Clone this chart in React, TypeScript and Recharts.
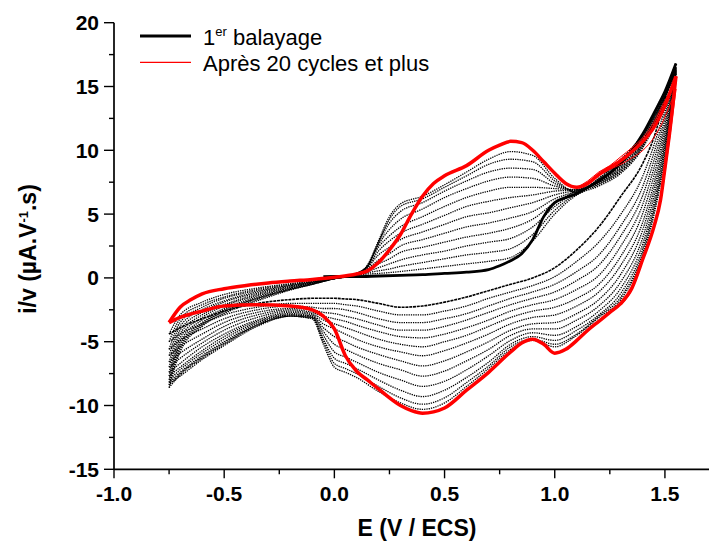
import React from "react";
import { Line, LineChart, XAxis, YAxis } from "recharts";

// Cyclic voltammogram: first sweep (thick black), intermediate cycles
// (dotted black) and the stabilised cycles after 20 sweeps (red).
// Potentials in V vs ECS, currents as i/v in µA.V-1.s.

const X_TICKS = [-1, -0.75, -0.5, -0.25, 0, 0.25, 0.5, 0.75, 1, 1.25, 1.5];
const Y_TICKS = [-15, -12.5, -10, -7.5, -5, -2.5, 0, 2.5, 5, 7.5, 10, 12.5, 15, 17.5, 20];

// potential grids shared by the dotted intermediate cycles
const UP_E = [-0.75, -0.7, -0.6, -0.5, -0.35, -0.2, -0.1, 0.0, 0.1, 0.15, 0.2, 0.25, 0.3, 0.4, 0.5, 0.6, 0.7, 0.8, 0.9, 1.0, 1.1, 1.2, 1.3, 1.4, 1.5, 1.55];
const DOWN_E = [1.55, 1.5, 1.45, 1.4, 1.3, 1.2, 1.1, 1.0, 0.9, 0.8, 0.7, 0.6, 0.5, 0.4, 0.3, 0.2, 0.1, 0.05, 0.0, -0.05, -0.1, -0.2, -0.35, -0.5, -0.6, -0.7, -0.75];

// 1er balayage
const FIRST_UP_E = [-0.05, 0.0, 0.1, 0.2, 0.3, 0.4, 0.5, 0.6, 0.7, 0.75, 0.8, 0.85, 0.9, 0.95, 1.0, 1.05, 1.1, 1.15, 1.2, 1.25, 1.3, 1.35, 1.4, 1.45, 1.5, 1.55];
const FIRST_UP = [0.1, 0.12, 0.1, 0.15, 0.2, 0.25, 0.35, 0.45, 0.65, 0.95, 1.35, 1.9, 3.0, 4.8, 5.9, 6.3, 6.6, 7.1, 7.6, 8.2, 9.0, 10.0, 11.3, 12.9, 14.6, 16.8];
const FIRST_DOWN = [16.8, 14.0, 11.0, 9.0, 6.4, 4.0, 2.2, 0.8, 0.0, -0.5, -1.0, -1.5, -1.9, -2.2, -2.3, -2.0, -1.7, -1.65, -1.6, -1.6, -1.6, -1.7, -2.0, -2.6, -3.2, -3.9, -4.4];

// intermediate cycles, anodic (UP_E) and cathodic (DOWN_E) branches
const C01_UP = [-4.4, -2.9, -1.9, -1.3, -0.8, -0.45, -0.25, -0.05, 0.2, 0.3, 0.35, 0.42, 0.5, 0.7, 0.9, 1.1, 1.3, 1.6, 2.9, 5.0, 6.5, 7.2, 8.2, 10.2, 14.0, 16.5];
const C01_DOWN = [16.5, 13.3, 10.4, 8.0, 5.0, 2.8, 1.3, 0.1, -0.6, -1.1, -1.6, -2.2, -2.6, -2.9, -2.9, -2.6, -2.2, -2.1, -2.0, -2.0, -2.0, -2.0, -2.3, -2.9, -3.6, -4.4, -5.0];
const C02_UP = [-5.0, -3.2, -2.1, -1.5, -0.9, -0.5, -0.3, -0.05, 0.2, 0.4, 0.55, 0.7, 0.9, 1.2, 1.5, 1.8, 2.0, 2.3, 3.4, 5.3, 6.6, 7.3, 8.3, 10.3, 14.1, 16.5];
const C02_DOWN = [16.5, 12.9, 9.8, 7.2, 4.1, 1.8, 0.5, -0.5, -1.1, -1.6, -2.2, -2.8, -3.2, -3.5, -3.5, -3.2, -2.7, -2.5, -2.4, -2.4, -2.3, -2.2, -2.5, -3.2, -4.0, -4.9, -5.6];
const C03_UP = [-5.6, -3.5, -2.3, -1.6, -1.0, -0.55, -0.3, -0.05, 0.2, 0.5, 0.8, 1.1, 1.4, 1.8, 2.1, 2.5, 2.8, 3.1, 4.0, 5.6, 6.7, 7.4, 8.4, 10.4, 14.1, 16.4];
const C03_DOWN = [16.4, 12.5, 9.2, 6.5, 3.3, 1.0, -0.2, -1.1, -1.6, -2.1, -2.7, -3.3, -3.8, -4.1, -4.1, -3.7, -3.2, -3.0, -2.8, -2.7, -2.5, -2.4, -2.7, -3.5, -4.4, -5.4, -6.1];
const C04_UP = [-6.1, -3.8, -2.5, -1.8, -1.1, -0.6, -0.35, -0.05, 0.25, 0.6, 1.1, 1.5, 2.0, 2.4, 2.8, 3.2, 3.5, 3.9, 4.6, 5.9, 6.8, 7.4, 8.5, 10.5, 14.2, 16.4];
const C04_DOWN = [16.4, 12.1, 8.6, 5.8, 2.5, 0.2, -0.9, -1.7, -2.1, -2.6, -3.3, -3.9, -4.4, -4.7, -4.6, -4.2, -3.7, -3.4, -3.2, -3.0, -2.7, -2.5, -2.9, -3.8, -4.8, -5.9, -6.6];
const C05_UP = [-6.6, -4.1, -2.7, -1.9, -1.2, -0.65, -0.35, -0.05, 0.25, 0.7, 1.4, 1.9, 2.5, 3.0, 3.5, 4.0, 4.3, 4.7, 5.2, 6.2, 6.8, 7.5, 8.6, 10.6, 14.2, 16.3];
const C05_DOWN = [16.3, 11.7, 8.0, 5.1, 1.7, -0.5, -1.6, -2.3, -2.6, -3.1, -3.8, -4.5, -5.0, -5.4, -5.2, -4.8, -4.2, -3.9, -3.6, -3.3, -2.8, -2.6, -3.1, -4.1, -5.1, -6.3, -7.0];
const C06_UP = [-7.0, -4.4, -2.9, -2.1, -1.3, -0.7, -0.4, -0.05, 0.3, 0.8, 1.8, 2.4, 3.0, 3.6, 4.2, 4.8, 5.1, 5.5, 5.9, 6.5, 6.9, 7.5, 8.7, 10.7, 14.3, 16.3];
const C06_DOWN = [16.3, 11.3, 7.4, 4.4, 1.0, -1.1, -2.2, -2.9, -3.1, -3.6, -4.4, -5.1, -5.7, -6.1, -5.8, -5.4, -4.8, -4.4, -4.0, -3.6, -2.9, -2.7, -3.3, -4.4, -5.4, -6.7, -7.4];
const C07_UP = [-7.4, -4.7, -3.1, -2.2, -1.4, -0.75, -0.4, -0.05, 0.3, 0.85, 2.1, 2.9, 3.5, 4.2, 4.9, 5.6, 6.0, 6.3, 6.5, 6.8, 6.9, 7.6, 8.8, 10.8, 14.3, 16.2];
const C07_DOWN = [16.2, 10.9, 6.9, 3.8, 0.3, -1.7, -2.8, -3.5, -3.6, -4.1, -5.0, -5.8, -6.5, -6.9, -6.5, -6.0, -5.4, -5.0, -4.6, -3.9, -3.0, -2.8, -3.4, -4.6, -5.7, -7.0, -7.7];
const C08_UP = [-7.7, -5.0, -3.3, -2.4, -1.5, -0.8, -0.45, -0.05, 0.3, 0.9, 2.4, 3.3, 4.0, 4.8, 5.6, 6.3, 6.8, 7.1, 7.1, 7.0, 6.9, 7.6, 8.9, 10.9, 14.4, 16.2];
const C08_DOWN = [16.2, 10.6, 6.4, 3.2, -0.3, -2.2, -3.3, -4.0, -4.0, -4.5, -5.6, -6.5, -7.3, -7.7, -7.2, -6.7, -6.0, -5.6, -5.2, -4.2, -3.0, -2.9, -3.5, -4.8, -5.9, -7.2, -8.0];
const C09_UP = [-8.0, -5.2, -3.5, -2.5, -1.6, -0.85, -0.45, -0.05, 0.3, 0.9, 2.6, 3.8, 4.6, 5.4, 6.3, 7.0, 7.6, 7.9, 7.8, 7.2, 6.9, 7.7, 9.0, 11.0, 14.5, 16.1];
const C09_DOWN = [16.1, 10.3, 5.9, 2.7, -0.8, -2.6, -3.8, -4.5, -4.3, -4.9, -6.1, -7.2, -8.1, -8.5, -8.0, -7.4, -6.6, -6.2, -5.8, -4.5, -3.1, -2.9, -3.6, -5.0, -6.1, -7.4, -8.2];
const C10_UP = [-8.2, -5.4, -3.6, -2.6, -1.6, -0.9, -0.5, -0.05, 0.35, 0.95, 2.7, 4.3, 5.2, 5.9, 6.8, 7.6, 8.3, 8.6, 8.5, 7.4, 6.8, 7.7, 9.1, 11.1, 14.5, 16.1];
const C10_DOWN = [16.1, 10.0, 5.5, 2.3, -1.2, -2.9, -4.1, -4.9, -4.6, -5.2, -6.6, -7.8, -8.8, -9.3, -8.8, -8.0, -7.1, -6.7, -6.3, -4.8, -3.1, -3.0, -3.7, -5.1, -6.2, -7.5, -8.4];
const C11_UP = [-8.4, -5.6, -3.7, -2.7, -1.7, -0.9, -0.5, -0.05, 0.35, 0.95, 2.8, 4.6, 5.6, 6.2, 7.1, 8.0, 8.9, 9.3, 9.1, 7.6, 6.7, 7.8, 9.2, 11.2, 14.6, 16.0];
const C11_DOWN = [16.0, 9.7, 5.2, 2.0, -1.5, -3.0, -4.4, -5.2, -4.8, -5.4, -6.9, -8.2, -9.4, -9.9, -9.4, -8.5, -7.5, -7.1, -6.7, -5.0, -3.2, -3.0, -3.7, -5.2, -6.3, -7.6, -8.6];
const C12_UP = [-8.6, -5.8, -3.8, -2.8, -1.8, -0.95, -0.5, -0.05, 0.35, 1.0, 2.9, 4.8, 5.8, 6.4, 7.3, 8.3, 9.3, 9.9, 9.6, 7.8, 6.7, 7.8, 9.3, 11.3, 14.6, 16.0];
const C12_DOWN = [16.0, 9.4, 4.9, 1.8, -1.7, -3.1, -4.5, -5.4, -4.9, -5.6, -7.1, -8.5, -9.8, -10.3, -9.8, -8.9, -7.8, -7.4, -7.0, -5.2, -3.2, -3.0, -3.8, -5.3, -6.4, -7.7, -8.3];

// Après 20 cycles et plus
const RED_UP_E = [-0.75, -0.7, -0.65, -0.6, -0.5, -0.4, -0.3, -0.2, -0.1, 0.0, 0.1, 0.15, 0.2, 0.25, 0.3, 0.35, 0.4, 0.45, 0.5, 0.6, 0.7, 0.75, 0.8, 0.85, 0.9, 0.95, 1.0, 1.05, 1.1, 1.15, 1.2, 1.3, 1.35, 1.4, 1.45, 1.5, 1.55];
const RED_UP = [-3.5, -2.3, -1.7, -1.25, -0.85, -0.6, -0.4, -0.25, -0.12, 0.05, 0.3, 0.55, 1.2, 2.2, 3.4, 5.0, 6.4, 7.4, 8.0, 8.8, 10.0, 10.4, 10.7, 10.6, 10.0, 9.1, 8.2, 7.4, 7.1, 7.4, 8.1, 9.2, 9.9, 10.7, 11.8, 13.5, 15.8];
const RED_DOWN_E = [1.55, 1.52, 1.5, 1.48, 1.45, 1.4, 1.35, 1.3, 1.25, 1.2, 1.15, 1.1, 1.05, 1.0, 0.95, 0.9, 0.85, 0.8, 0.7, 0.6, 0.5, 0.45, 0.4, 0.35, 0.3, 0.2, 0.15, 0.1, 0.05, 0.0, -0.05, -0.1, -0.2, -0.35, -0.5, -0.6, -0.7, -0.75];
const RED_DOWN = [15.8, 11.2, 8.6, 6.1, 4.0, 1.5, -0.8, -2.0, -2.7, -3.4, -4.1, -4.9, -5.6, -5.9, -5.2, -4.8, -5.1, -5.8, -7.4, -8.8, -10.2, -10.5, -10.6, -10.4, -10.0, -8.7, -8.0, -7.3, -6.1, -4.0, -3.0, -2.5, -2.2, -2.1, -2.2, -2.6, -3.1, -3.5];
// the other red cycles only split apart near the vertex
const RED_TIP_UP_E = [1.1, 1.15, 1.2, 1.25, 1.3, 1.35, 1.4, 1.45, 1.5, 1.55];
const RED_B_UP = [7.0, 7.5, 8.0, 8.5, 8.9, 9.4, 10.0, 11.0, 12.6, 14.8];
const RED_C_UP = [7.1, 7.6, 8.3, 8.8, 9.5, 10.2, 11.0, 12.2, 13.9, 15.4];
const RED_TIP_DOWN_E = [1.55, 1.52, 1.5, 1.48, 1.45, 1.4, 1.35, 1.3];
const RED_B_DOWN = [14.8, 10.8, 8.3, 6.0, 3.9, 1.4, -0.9, -2.1];
const RED_C_DOWN = [15.4, 11.5, 9.0, 6.4, 4.2, 1.6, -0.7, -2.0];

const CYCLES = [
  [C01_UP, C01_DOWN],
  [C02_UP, C02_DOWN],
  [C03_UP, C03_DOWN],
  [C04_UP, C04_DOWN],
  [C05_UP, C05_DOWN],
  [C06_UP, C06_DOWN],
  [C07_UP, C07_DOWN],
  [C08_UP, C08_DOWN],
  [C09_UP, C09_DOWN],
  [C10_UP, C10_DOWN],
  [C11_UP, C11_DOWN],
  [C12_UP, C12_DOWN],
];

const FONT = "Arial, 'Liberation Sans', Helvetica, sans-serif";

function toPoints(potentials: number[], currents: number[]) {
  return potentials.map((e, j) => ({ E: e, i: currents[j] }));
}

function XTick({ x, y, payload }: any) {
  const v = payload.value as number;
  const major = Math.abs(v * 2 - Math.round(v * 2)) < 1e-9;
  return (
    <g>
      <line x1={x} x2={x} y1={y} y2={y + (major ? 9 : 5)} stroke="#000" strokeWidth={1.4} />
      {major && (
        <text x={x} y={y + 31.5} textAnchor="middle" fontFamily={FONT} fontWeight="bold" fontSize={21} fill="#000">
          {v.toFixed(1)}
        </text>
      )}
    </g>
  );
}

function YTick({ x, y, payload }: any) {
  const v = payload.value as number;
  const major = v % 5 === 0;
  return (
    <g>
      <line x1={x - (major ? 10 : 5)} x2={x} y1={y} y2={y} stroke="#000" strokeWidth={1.4} />
      {major && (
        <text x={x - 15} y={y + 7.5} textAnchor="end" fontFamily={FONT} fontWeight="bold" fontSize={21} fill="#000">
          {v}
        </text>
      )}
    </g>
  );
}

const common = {
  dataKey: "i",
  type: "monotone" as const,
  dot: false,
  activeDot: false,
  isAnimationActive: false,
  legendType: "none" as const,
};

export default function App() {
  const dotted = CYCLES.flatMap(([up, down], n) => [
    <Line key={`u${n}`} {...common} data={toPoints(UP_E, up)} stroke="#000" strokeWidth={1.3} strokeDasharray="1.3 1" />,
    <Line key={`d${n}`} {...common} data={toPoints(DOWN_E, down)} stroke="#000" strokeWidth={1.3} strokeDasharray="1.3 1" />,
  ]);

  return (
    <div style={{ position: "absolute", left: 0, top: 0, width: 709, height: 541, background: "#fff" }}>
      <LineChart width={709} height={541} margin={{ top: 22.7, right: 0, bottom: 0, left: 0 }}>
        <XAxis
          dataKey="E"
          type="number"
          domain={[-1, 1.7]}
          ticks={X_TICKS}
          interval={0}
          allowDataOverflow
          height={71.7}
          tickSize={0}
          tickMargin={0}
          tickLine={false}
          tick={<XTick />}
          axisLine={{ stroke: "#000", strokeWidth: 1.7 }}
        />
        <YAxis
          type="number"
          domain={[-15, 20]}
          ticks={Y_TICKS}
          interval={0}
          allowDataOverflow
          width={114}
          tickSize={0}
          tickMargin={0}
          tickLine={false}
          tick={<YTick />}
          axisLine={{ stroke: "#000", strokeWidth: 1.7 }}
        />
        {dotted}
        <Line {...common} data={toPoints(DOWN_E, FIRST_DOWN)} stroke="#000" strokeWidth={1.6} strokeDasharray="3 0.8" />
        <Line {...common} data={toPoints(FIRST_UP_E, FIRST_UP)} stroke="#000" strokeWidth={2.8} />
        <Line {...common} data={toPoints(RED_TIP_UP_E, RED_B_UP)} stroke="#ff0000" strokeWidth={1} />
        <Line {...common} data={toPoints(RED_TIP_UP_E, RED_C_UP)} stroke="#ff0000" strokeWidth={1} />
        <Line {...common} data={toPoints(RED_TIP_DOWN_E, RED_B_DOWN)} stroke="#ff0000" strokeWidth={1.3} />
        <Line {...common} data={toPoints(RED_TIP_DOWN_E, RED_C_DOWN)} stroke="#ff0000" strokeWidth={1.3} />
        <Line {...common} data={toPoints(RED_UP_E, RED_UP)} stroke="#ff0000" strokeWidth={3.5} />
        <Line {...common} data={toPoints(RED_DOWN_E, RED_DOWN)} stroke="#ff0000" strokeWidth={3.5} />
      </LineChart>
      <svg width={709} height={541} style={{ position: "absolute", left: 0, top: 0, pointerEvents: "none" }}>
        <line x1={140} x2={191} y1={36} y2={36} stroke="#000" strokeWidth={3} />
        <text x={203} y={44.5} fontFamily={FONT} fontSize={22} fill="#000">
          1<tspan dy={-9} fontSize={13}>er</tspan>
          <tspan dy={9}> balayage</tspan>
        </text>
        <line x1={140} x2={191} y1={62.3} y2={62.3} stroke="#ff0000" strokeWidth={1.2} />
        <text x={203} y={71} fontFamily={FONT} fontSize={22} fill="#000">
          Après 20 cycles et plus
        </text>
        <text x={417} y={536} textAnchor="middle" fontFamily={FONT} fontWeight="bold" fontSize={23} fill="#000">
          E (V / ECS)
        </text>
        <text
          x={36}
          y={249}
          transform="rotate(-90 36 249)"
          textAnchor="middle"
          fontFamily={FONT}
          fontWeight="bold"
          fontSize={23}
          fill="#000"
        >
          i/v (µA.V<tspan dy={-8} fontSize={13}>-1</tspan>
          <tspan dy={8}>.s)</tspan>
        </text>
      </svg>
    </div>
  );
}
